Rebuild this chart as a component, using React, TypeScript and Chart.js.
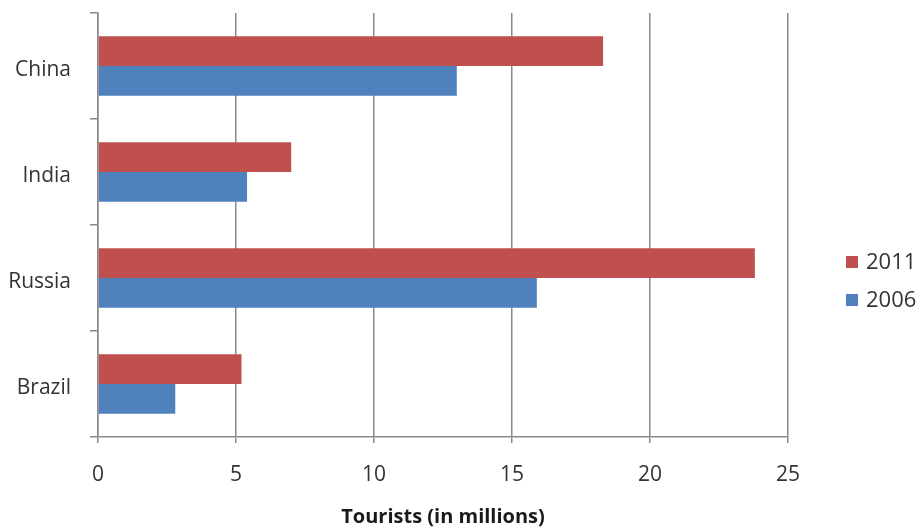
import React, { useEffect, useRef } from "react";
import { Chart, registerables } from "chart.js";

Chart.register(...registerables);

const categories = ["China", "India", "Russia", "Brazil"];
const seriesLabels = ["2011", "2006"];
const values2011 = [18.3, 7.0, 23.8, 5.2];
const values2006 = [13.0, 5.4, 15.9, 2.8];
const xMin = 0;
const xMax = 25;
const xStep = 5;
const axisTitle = "Tourists (in millions)";

const FONT = '"Open Sans", "DejaVu Sans", sans-serif';
const GRID = "#8a8a8a";

const sideLegend = {
  id: "sideLegend",
  afterDraw(chart: any) {
    const { ctx, chartArea } = chart;
    ctx.save();
    ctx.font = `22px ${FONT}`;
    ctx.textBaseline = "middle";
    ctx.textAlign = "left";
    chart.data.datasets.forEach((ds: any, i: number) => {
      const y = chartArea.top + 249 + i * 38;
      const x = chartArea.right + 58;
      ctx.fillStyle = ds.backgroundColor;
      ctx.fillRect(x, y - 6, 12, 12);
      ctx.fillStyle = "#333333";
      ctx.fillText(ds.label, x + 20, y + 1);
    });
    ctx.restore();
  },
};

export default function App() {
  const ref = useRef<HTMLCanvasElement | null>(null);

  useEffect(() => {
    if (!ref.current) return;
    const chart = new Chart(ref.current, {
      type: "bar",
      data: {
        labels: categories,
        datasets: [
          {
            label: seriesLabels[0],
            data: values2011,
            backgroundColor: "#C0504D",
            categoryPercentage: 0.56,
            barPercentage: 1.0,
          },
          {
            label: seriesLabels[1],
            data: values2006,
            backgroundColor: "#4F81BD",
            categoryPercentage: 0.56,
            barPercentage: 1.0,
          },
        ],
      },
      options: {
        indexAxis: "y",
        animation: false,
        responsive: true,
        maintainAspectRatio: false,
        layout: { padding: { top: 13, right: 132, left: 0, bottom: 0 } },
        plugins: {
          legend: { display: false },
          tooltip: { enabled: false },
        },
        scales: {
          x: {
            min: xMin,
            max: xMax,
            ticks: {
              stepSize: xStep,
              color: "#333333",
              font: { family: FONT, size: 21 },
              padding: 19,
            },
            grid: {
              color: GRID,
              lineWidth: 1.5,
              drawOnChartArea: true,
              drawTicks: true,
              tickLength: 6,
            },
            border: { display: true, color: GRID, width: 1.5 },
            title: {
              display: true,
              text: axisTitle,
              color: "#1a1a1a",
              font: { family: FONT, size: 20, weight: "bold" },
              padding: { top: 0, bottom: 0 },
            },
            afterFit(scale: any) {
              scale.height = 92;
            },
          },
          y: {
            ticks: {
              color: "#333333",
              font: { family: FONT, size: 21 },
              padding: 19,
              labelOffset: 4,
            },
            grid: {
              offset: true,
              color: GRID,
              lineWidth: 1.5,
              drawOnChartArea: false,
              drawTicks: true,
              tickLength: 8,
            },
            border: { display: true, color: GRID, width: 1.5 },
            afterFit(scale: any) {
              scale.width = 98;
              scale.paddingTop = 0;
              scale.paddingBottom = 0;
            },
          },
        },
      },
      plugins: [sideLegend],
    });
    return () => chart.destroy();
  }, []);

  return (
    <div
      style={{
        position: "fixed",
        left: 0,
        top: 0,
        width: 920,
        height: 529,
        background: "#ffffff",
      }}
    >
      <canvas ref={ref} />
    </div>
  );
}
